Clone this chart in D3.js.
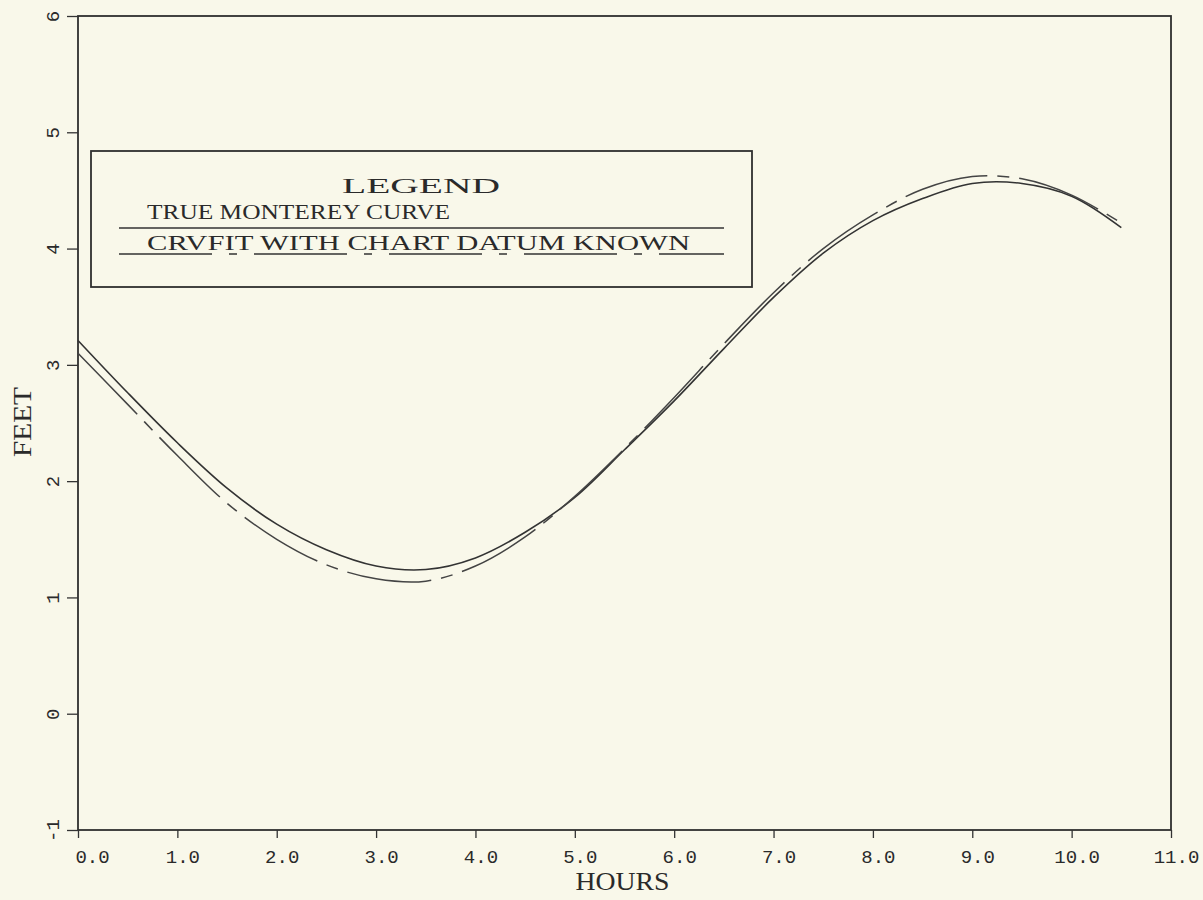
<!DOCTYPE html>
<html>

<head>
    <meta charset="utf-8">
    <script src="https://d3js.org/d3.v7.min.js"></script>
    <style>
        body {
            margin: 0;
            background-color: #f9f8ea;
        }

        .chart text {
            fill: #2a2a2a;
        }

        .axis .domain {
            display: none;
        }

        .axis line {
            stroke: #333;
            stroke-width: 1.3;
        }

        .axis text {
            font-family: "Liberation Mono", monospace;
            font-size: 19px;
        }
    </style>
</head>

<body>
    <div class="chart"></div>
    <script>
        // values, every half hour
        var hours = [0.0, 0.5, 1.0, 1.5, 2.0, 2.5, 3.0, 3.5, 4.0, 4.5, 5.0,
            5.5, 6.0, 6.5, 7.0, 7.5, 8.0, 8.5, 9.0, 9.5, 10.0, 10.5];
        var trueCurve = [3.21, 2.76, 2.33, 1.94, 1.63, 1.41, 1.27, 1.24, 1.34, 1.56, 1.86,
            2.27, 2.69, 3.14, 3.58, 3.96, 4.24, 4.43, 4.56, 4.56, 4.45, 4.18];
        var crvfitCurve = [3.10, 2.66, 2.22, 1.81, 1.50, 1.28, 1.16, 1.14, 1.27, 1.52, 1.87,
            2.28, 2.72, 3.18, 3.62, 4.00, 4.29, 4.51, 4.62, 4.60, 4.46, 4.22];
        var xTicks = [0, 1, 2, 3, 4, 5, 6, 7, 8, 9, 10, 11];
        var yTicks = [-1, 0, 1, 2, 3, 4, 5, 6];
        var legendLabels = ["TRUE MONTEREY CURVE", "CRVFIT WITH CHART DATUM KNOWN"];

        var dashes = "85,10,12,10";

        var svg = d3.select(".chart")
            .append("svg")
            .attr("width", 1203)
            .attr("height", 900);

        var x = d3.scaleLinear()
            .domain([0, 11])
            .range([78, 1171]);

        var y = d3.scaleLinear()
            .domain([-1, 6])
            .range([830, 16]);

        // frame
        svg.append("rect")
            .attr("x", x(0))
            .attr("y", y(6))
            .attr("width", x(11) - x(0))
            .attr("height", y(-1) - y(6))
            .attr("fill", "none")
            .attr("stroke", "#2f2f2f")
            .attr("stroke-width", 1.8);

        // x axis
        var xAxis = svg.append("g")
            .attr("class", "axis")
            .attr("transform", "translate(0," + y(-1) + ")")
            .call(d3.axisBottom(x)
                .tickValues(xTicks)
                .tickFormat(d3.format(".1f"))
                .tickSize(8)
                .tickPadding(12));
        xAxis.selectAll("text")
            .attr("dx", function(d) {
                return d === 0 ? 14 : 5;
            });

        // y axis, labels turned on their side
        var yAxis = svg.append("g")
            .attr("class", "axis")
            .attr("transform", "translate(" + x(0) + ",0)")
            .call(d3.axisLeft(y)
                .tickValues(yTicks)
                .tickFormat(function(d) { return String(d); })
                .tickSize(11));
        yAxis.selectAll("text")
            .attr("x", 0)
            .attr("dy", 0)
            .attr("text-anchor", "middle")
            .attr("transform", "translate(-19,0) rotate(-90)");

        svg.append("text")
            .attr("x", x(5.5) - 2)
            .attr("y", 890)
            .attr("text-anchor", "middle")
            .attr("font-family", "Liberation Serif, serif")
            .attr("font-size", 25)
            .attr("textLength", 94)
            .attr("lengthAdjust", "spacingAndGlyphs")
            .text("HOURS");

        svg.append("text")
            .attr("transform", "translate(31," + 422 + ") rotate(-90)")
            .attr("text-anchor", "middle")
            .attr("font-family", "Liberation Serif, serif")
            .attr("font-size", 25)
            .attr("textLength", 70)
            .attr("lengthAdjust", "spacingAndGlyphs")
            .text("FEET");

        // curves
        var line = d3.line()
            .x(function(d) { return x(d[0]); })
            .y(function(d) { return y(d[1]); })
            .curve(d3.curveCatmullRom);

        svg.append("path")
            .datum(d3.zip(hours, trueCurve))
            .attr("d", line)
            .attr("fill", "none")
            .attr("stroke", "#333")
            .attr("stroke-width", 1.6);

        svg.append("path")
            .datum(d3.zip(hours, crvfitCurve))
            .attr("d", line)
            .attr("fill", "none")
            .attr("stroke", "#444")
            .attr("stroke-width", 1.5)
            .attr("stroke-dasharray", dashes);

        // legend
        var legend = svg.append("g");

        legend.append("rect")
            .attr("x", 91)
            .attr("y", 151)
            .attr("width", 661)
            .attr("height", 136)
            .attr("fill", "none")
            .attr("stroke", "#2f2f2f")
            .attr("stroke-width", 1.8);

        legend.append("text")
            .attr("x", 421)
            .attr("y", 193)
            .attr("text-anchor", "middle")
            .attr("font-family", "Liberation Serif, serif")
            .attr("font-size", 22)
            .attr("textLength", 158)
            .attr("lengthAdjust", "spacingAndGlyphs")
            .text("LEGEND");

        var legendWidths = [303, 543];
        legend.selectAll(".legend-label")
            .data(legendLabels)
            .enter()
            .append("text")
            .attr("class", "legend-label")
            .attr("x", 147)
            .attr("y", function(d, i) { return 219 + i * 31; })
            .attr("font-family", "Liberation Serif, serif")
            .attr("font-size", 22)
            .attr("textLength", function(d, i) { return legendWidths[i]; })
            .attr("lengthAdjust", "spacingAndGlyphs")
            .text(function(d) { return d; });

        legend.selectAll(".legend-line")
            .data(legendLabels)
            .enter()
            .append("line")
            .attr("class", "legend-line")
            .attr("x1", 119)
            .attr("x2", 724)
            .attr("y1", function(d, i) { return 228 + i * 26; })
            .attr("y2", function(d, i) { return 228 + i * 26; })
            .attr("stroke", "#333")
            .attr("stroke-width", 1.6)
            .attr("stroke-dasharray", function(d, i) { return i === 0 ? null : "93,17,8,17"; });
    </script>
</body>

</html>
